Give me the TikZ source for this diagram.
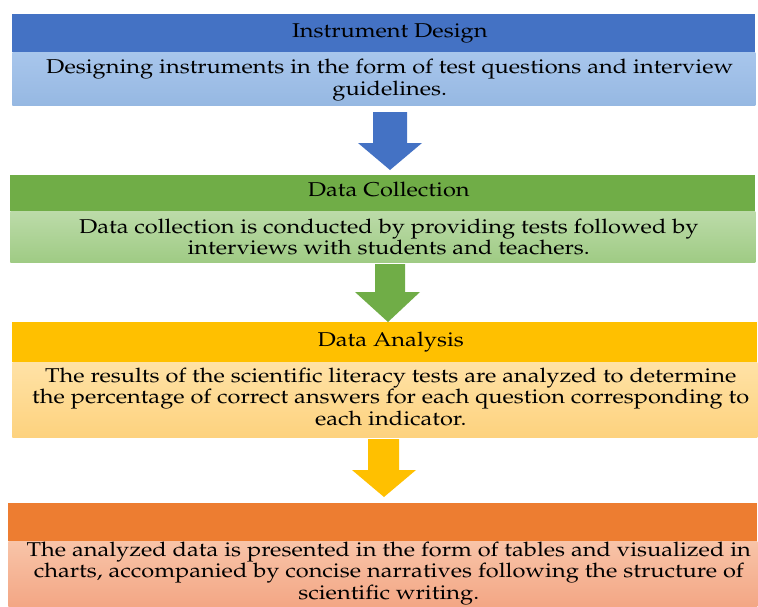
\documentclass[tikz,border=0pt]{standalone}
\usepackage[T1]{fontenc}
\usepackage{mathpazo}
\usetikzlibrary{calc}
\definecolor{blueH}{HTML}{4472C4}
\definecolor{blueT}{HTML}{A8C6EC}
\definecolor{blueB}{HTML}{96B8E2}
\definecolor{greenH}{HTML}{70AD47}
\definecolor{greenT}{HTML}{BCDBA9}
\definecolor{greenB}{HTML}{9FCB84}
\definecolor{yellowH}{HTML}{FFC000}
\definecolor{yellowT}{HTML}{FFE2A6}
\definecolor{yellowB}{HTML}{FDD27E}
\definecolor{orangeH}{HTML}{ED7D31}
\definecolor{orangeT}{HTML}{F8C4A8}
\definecolor{orangeB}{HTML}{F3A684}
\def\u{0.75pt}
\tikzset{
  boxshape/.style={anchor=north west, inner sep=0pt, minimum width=#1*\u},
  label text/.style={inner sep=0pt, align=center, text=black, xscale=1.18, transform shape,
    font=\fontsize{15}{14}\selectfont}
}
\begin{document}
\begin{tikzpicture}[x=0.75pt,y=-0.75pt]
\useasboundingbox (0,0) rectangle (758,607);
% block 1
\node[boxshape=743, minimum height=38*\u, fill=blueH] (h1) at (12,14) {};
\node[boxshape=743, minimum height=53*\u, top color=blueT, bottom color=blueB] (b1) at (12,52) {};
\node[label text] (th1) at ($(h1.center)+(6,0)$) {Instrument Design};
\node[label text] (tb1) at ($(b1.center)+(6,1.5)$) {Designing instruments in the form of test questions and interview\\guidelines.};
% block 2
\node[boxshape=745, minimum height=36*\u, fill=greenH] (h2) at (10,175) {};
\node[boxshape=745, minimum height=51*\u, top color=greenT, bottom color=greenB] (b2) at (10,211) {};
\node[label text] (th2) at ($(h2.center)+(6,-4)$) {Data Collection};
\node[label text] (tb2) at ($(b2.center)+(6,0)$) {Data collection is conducted by providing tests followed by\\interviews with students and teachers.};
% block 3
\node[boxshape=745, minimum height=40*\u, fill=yellowH] (h3) at (12,322) {};
\node[boxshape=745, minimum height=75*\u, top color=yellowT, bottom color=yellowB] (b3) at (12,362) {};
\node[label text] (th3) at ($(h3.center)+(6,0)$) {Data Analysis};
\node[label text] (tb3) at ($(b3.center)+(6,-3)$) {The results of the scientific literacy tests are analyzed to determine\\the percentage of correct answers for each question corresponding to\\each indicator.};
% block 4
\node[boxshape=749, minimum height=38*\u, fill=orangeH] (h4) at (8,503) {};
\node[boxshape=749, minimum height=66*\u, top color=orangeT, bottom color=orangeB] (b4) at (8,541) {};
\node[label text] (tb4) at ($(b4.center)+(6,-1)$) {The analyzed data is presented in the form of tables and visualized in\\charts, accompanied by concise narratives following the structure of\\scientific writing.};
% arrows
\fill[blueH] (373,112) -- (407,112) -- (407,143) -- (422,143) -- (390,170) -- (358,143) -- (373,143) -- cycle;
\fill[greenH] (375,264) -- (405,264) -- (405,292) -- (420,292) -- (388,322) -- (355,292) -- (375,292) -- cycle;
\fill[yellowH] (368,439) -- (399,439) -- (399,470) -- (416,470) -- (384,497) -- (352,470) -- (368,470) -- cycle;
\end{tikzpicture}
\end{document}
